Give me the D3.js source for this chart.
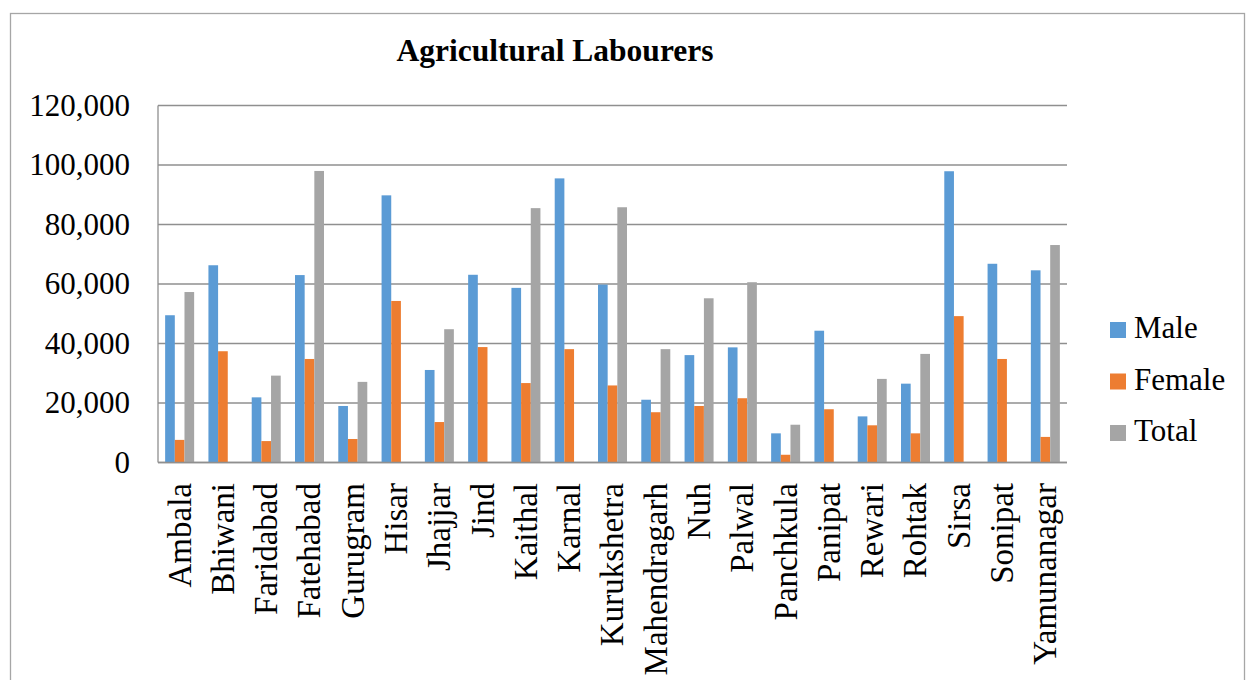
<!DOCTYPE html>
<html>
<head>
<meta charset="utf-8">
<script src="https://cdn.jsdelivr.net/npm/d3@7"></script>
<style>
  body { margin: 0; background: #fff; }
  text { font-family: "Liberation Serif", "Times New Roman", serif; fill: #000; }
</style>
</head>
<body>
<script>
// Agricultural labourers by district
var districts = ["Ambala", "Bhiwani", "Faridabad", "Fatehabad", "Gurugram", "Hisar", "Jhajjar", "Jind",
    "Kaithal", "Karnal", "Kurukshetra", "Mahendragarh", "Nuh", "Palwal", "Panchkula", "Panipat",
    "Rewari", "Rohtak", "Sirsa", "Sonipat", "Yamunanagar"];
var male = [49500, 66300, 21900, 63000, 19000, 89800, 31100, 63100, 58700, 95500, 59800, 21100,
    36100, 38700, 9800, 44300, 15500, 26500, 97900, 66800, 64600];
var female = [7600, 37400, 7200, 34800, 7900, 54300, 13600, 38800, 26700, 38100, 25900, 16900,
    19000, 21600, 2600, 17900, 12500, 9800, 49200, 34800, 8600];
// blank where the reference has no Total bar
var total = [57300, null, 29200, 98000, 27100, null, 44800, null, 85500, null, 85800, 38100,
    55200, 60600, 12700, null, 28100, 36500, null, null, 73100];
var seriesNames = ["Male", "Female", "Total"];
var seriesColors = ["#5b9bd5", "#ed7d31", "#a5a5a5"];
var yTicks = [0, 20000, 40000, 60000, 80000, 100000, 120000];

var width = 1250, height = 680;
// plot area edges
var plotLeft = 158, plotRight = 1067, plotTop = 105.5, plotBottom = 462.5;

var svg = d3.select("body").append("svg")
    .attr("width", width)
    .attr("height", height);

// outer chart border
svg.append("rect")
    .attr("x", 10.5).attr("y", 13.5)
    .attr("width", 1234).attr("height", 700)
    .attr("fill", "none")
    .attr("stroke", "#a6a6a6")
    .attr("stroke-width", 1.3);

var x0 = d3.scaleBand()
    .domain(districts)
    .range([plotLeft, plotRight])
    .paddingInner(0.33)
    .paddingOuter(0.165);
var x1 = d3.scaleBand()
    .domain(seriesNames)
    .range([0, x0.bandwidth()]);
var y = d3.scaleLinear()
    .domain([0, 120000])
    .range([plotBottom, plotTop]);

// gridlines
svg.append("g").selectAll("line")
    .data(yTicks)
    .enter().append("line")
    .attr("x1", plotLeft).attr("x2", plotRight)
    .attr("y1", function(d) { return y(d); })
    .attr("y2", function(d) { return y(d); })
    .attr("stroke", "#8f8f8f")
    .attr("stroke-width", 1.3);

// left axis line
svg.append("line")
    .attr("x1", plotLeft).attr("x2", plotLeft)
    .attr("y1", plotTop).attr("y2", plotBottom)
    .attr("stroke", "#8f8f8f")
    .attr("stroke-width", 1.3);

// y tick labels
var fmt = d3.format(",");
svg.append("g").selectAll("text")
    .data(yTicks)
    .enter().append("text")
    .attr("x", 130)
    .attr("y", function(d) { return y(d); })
    .attr("dy", "0.33em")
    .attr("text-anchor", "end")
    .attr("font-size", "31px")
    .text(function(d) { return fmt(d); });

// bars
var rows = districts.map(function(d, i) {
    return { name: d, values: [male[i], female[i], total[i]] };
});
var groups = svg.append("g").selectAll("g")
    .data(rows)
    .enter().append("g")
    .attr("transform", function(d) { return "translate(" + x0(d.name) + ",0)"; });
groups.selectAll("rect")
    .data(function(d) {
        return d.values.map(function(v, k) { return { key: seriesNames[k], value: v, k: k }; })
            .filter(function(e) { return e.value != null; });
    })
    .enter().append("rect")
    .attr("x", function(d) { return x1(d.key); })
    .attr("y", function(d) { return y(d.value); })
    .attr("width", x1.bandwidth())
    .attr("height", function(d) { return y(0) - y(d.value); })
    .attr("fill", function(d) { return seriesColors[d.k]; });

// bottom axis line on top of bars
svg.append("line")
    .attr("x1", plotLeft).attr("x2", plotRight)
    .attr("y1", plotBottom).attr("y2", plotBottom)
    .attr("stroke", "#8f8f8f")
    .attr("stroke-width", 1.5);

// x category labels, rotated
svg.append("g").selectAll("text")
    .data(districts)
    .enter().append("text")
    .attr("transform", function(d) {
        return "translate(" + (x0(d) + x0.bandwidth() / 2) + "," + 483 + ") rotate(-90)";
    })
    .attr("dy", "0.33em")
    .attr("text-anchor", "end")
    .attr("font-size", "33px")
    .text(function(d) { return d; });

// title
svg.append("text")
    .attr("x", 555).attr("y", 61)
    .attr("text-anchor", "middle")
    .attr("font-size", "31.5px")
    .attr("font-weight", "bold")
    .text("Agricultural Labourers");

// legend
var legend = svg.append("g").selectAll("g")
    .data(seriesNames)
    .enter().append("g")
    .attr("transform", function(d, i) { return "translate(1110," + (322 + i * 51.5) + ")"; });
legend.append("rect")
    .attr("width", 16).attr("height", 16)
    .attr("fill", function(d, i) { return seriesColors[i]; });
legend.append("text")
    .attr("x", 24).attr("y", 16)
    .attr("font-size", "31px")
    .text(function(d) { return d; });
</script>
</body>
</html>
